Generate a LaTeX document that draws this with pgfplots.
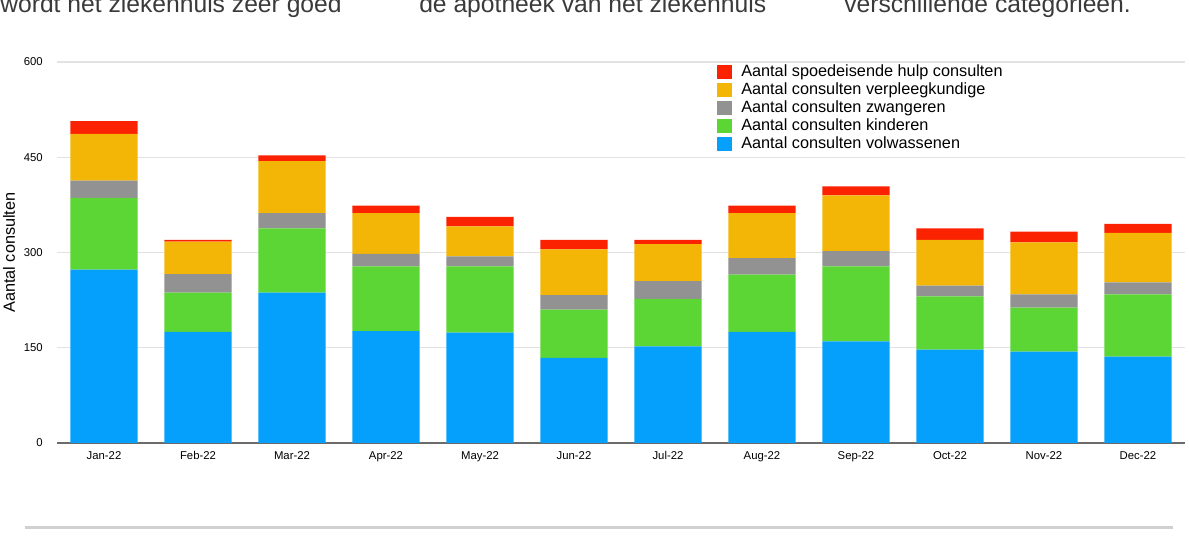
\documentclass[border=0pt]{standalone}
\usepackage{fontspec}
\setmainfont{Liberation Sans}
\usepackage{pgfplots}
\usepackage{pgfplotstable}
\pgfplotsset{compat=1.18}
\definecolor{cBlue}{HTML}{05A0FB}
\definecolor{cGreen}{HTML}{5CD634}
\definecolor{cGray}{HTML}{929292}
\definecolor{cOrange}{HTML}{F3B606}
\definecolor{cRed}{HTML}{FB2202}
\definecolor{gridc}{HTML}{E2E2E2}
\definecolor{axisc}{HTML}{6B6B6B}
\definecolor{topc}{HTML}{3A3A3A}
\definecolor{linec}{HTML}{D0D0D0}
\pgfplotstableread{
m blue green gray orange red
0 273 113 27 74 20
1 175 62 29 51 3
2 237 101 24 82 9
3 176 102 20 64 12
4 174 104 16 47 15
5 134 76 23 72 15
6 152 75 28 58 7
7 175 90 26 71 12
8 160 118 24 88 14
9 147 84 17 72 18
10 144 69 21 82 17
11 136 98 19 78 14
}\data
\begin{document}
\begin{tikzpicture}
\begin{axis}[
  at={(42.75pt,77.25pt)}, anchor=south west,
  scale only axis, width=846pt, height=285.75pt,
  xmin=-0.5, xmax=11.5, ymin=0, ymax=600,
  ybar stacked, bar width=0.713,
  xtick={0,...,11},
  xticklabels={Jan-22,Feb-22,Mar-22,Apr-22,May-22,Jun-22,Jul-22,Aug-22,Sep-22,Oct-22,Nov-22,Dec-22},
  ytick={150,300,450,600},
  extra y ticks={0},
  ymajorgrids,
  grid style={color=gridc, line width=1.1pt},
  extra y tick style={grid style={color=axisc, line width=1.5pt}},
  axis line style={draw=none},
  major tick length=0pt,
  tick label style={font=\fontsize{8.5}{10}\selectfont, /pgf/number format/assume math mode=true},
  yticklabel style={anchor=east, inner sep=0pt, xshift=-10.5pt},
  xticklabel style={anchor=north, inner sep=0pt, yshift=-6pt},
  ylabel={Aantal consulten},
  ylabel style={font=\fontsize{12.2}{14}\selectfont, at={(axis description cs:-0.04255,0.5)}, anchor=center},
  reverse legend,
  legend cell align=left,
  legend image code/.code={\fill[#1,draw=none] (0pt,-5.25pt) rectangle (11.25pt,5.25pt);},
  legend style={at={(axis description cs:0.5851,0.9948)}, anchor=north west,
    draw=none, fill=none, inner sep=0pt, row sep=2pt,
    font=\fontsize{12.2}{13.5}\selectfont,
    nodes={inner sep=0pt, text height=9pt, text depth=2.5pt},
    /tikz/every odd column/.append style={column sep=6.75pt}},
]
\addplot[fill=cBlue, draw=none] table[x=m, y=blue] {\data};
\addlegendentry{Aantal consulten volwassenen}
\addplot[fill=cGreen, draw=none] table[x=m, y=green] {\data};
\addlegendentry{Aantal consulten kinderen}
\addplot[fill=cGray, draw=none] table[x=m, y=gray] {\data};
\addlegendentry{Aantal consulten zwangeren}
\addplot[fill=cOrange, draw=none] table[x=m, y=orange] {\data};
\addlegendentry{Aantal consulten verpleegkundige}
\addplot[fill=cRed, draw=none] table[x=m, y=red] {\data};
\addlegendentry{Aantal spoedeisende hulp consulten}
\end{axis}
\node[anchor=base west, inner sep=0pt, text=topc, font=\fontsize{18.5}{20}\selectfont] at (0pt,400.1pt) {wordt het ziekenhuis zeer goed};
\node[anchor=base west, inner sep=0pt, text=topc, font=\fontsize{18.5}{20}\selectfont] at (314.25pt,400.1pt) {de apotheek van het ziekenhuis};
\node[anchor=base west, inner sep=0pt, text=topc, font=\fontsize{18.5}{20}\selectfont] at (633pt,400.1pt) {verschillende categorieën.};
\draw[linec, line width=2.25pt] (18.75pt,13.5pt) -- (879.75pt,13.5pt);
\pgfresetboundingbox
\path[use as bounding box] (0pt,0pt) rectangle (891.75pt,409.5pt);
\end{tikzpicture}
\end{document}
